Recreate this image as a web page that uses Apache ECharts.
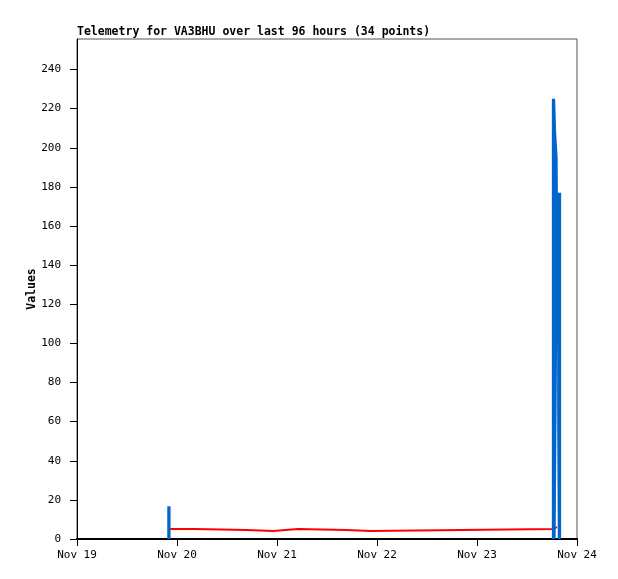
<!DOCTYPE html>
<html>
<head>
<meta charset="utf-8">
<script src="https://cdn.jsdelivr.net/npm/echarts@6/dist/echarts.min.js"></script>
<style>html,body{margin:0;padding:0;background:#fff}#c{width:618px;height:579px}</style>
</head>
<body>
<div id="c"></div>
<script>
// x values are hours since Nov 19 00:00
const dayLabels = ['Nov 19', 'Nov 20', 'Nov 21', 'Nov 22', 'Nov 23', 'Nov 24'];
const yTicks = [0, 20, 40, 60, 80, 100, 120, 140, 160, 180, 200, 220, 240];

// red channel (held until next reading)
const redHours  = [22.18, 28.25, 40.8, 47.04, 53.04, 64.66, 70.42, 114.1, 115.2];
const redValues = [5.1,   4.6,   4.1,  5.1,   4.6,   4.1,   5.1,   6.1,   6.1];

// blue channel (null = gap in the line)
const blueHours  = [22.06, 22.06, null,
                    114.36, 114.36, 114.6, 114.96, 115.05, 114.96, 114.84, 114.48, null,
                    115.8, 115.8, 115.63, 115.63, 115.78];
const blueValues = [0, 16.7, null,
                    0, 225, 208, 195, 168, 141, 104, 0, null,
                    0, 177, 141, 64, 0];

// build explicit hold-steps for the red channel
const redData = [];
redHours.forEach((h, i) => {
  if (i > 0) redData.push([h, redValues[i - 1]]);
  redData.push([h, redValues[i]]);
});
const blueData = blueHours.map((h, i) => h === null ? ['-', '-'] : [h, blueValues[i]]);

const FONT = 'DejaVu Sans Mono';
const chart = echarts.init(document.getElementById('c'), null, {renderer: 'canvas'});
chart.setOption({
  animation: false,
  backgroundColor: '#fff',
  title: {
    text: 'Telemetry for VA3BHU over last 96 hours (34 points)',
    left: 72, top: 21,
    textStyle: {fontFamily: FONT, fontWeight: 'bold', fontSize: 11.5, color: '#000'}
  },
  grid: {left: 77, top: 39, width: 500, height: 500, show: true, borderColor: '#555', borderWidth: 1, backgroundColor: 'transparent'},
  xAxis: {
    type: 'value', min: 0, max: 120, interval: 24,
    splitLine: {show: false},
    axisLine: {show: true, lineStyle: {color: '#000', width: 2}},
    axisTick: {show: true, length: 7, lineStyle: {color: '#000', width: 1}},
    axisLabel: {
      formatter: v => dayLabels[Math.round(v / 24)],
      margin: 11, color: '#000', fontFamily: FONT, fontSize: 11
    }
  },
  yAxis: {
    type: 'value', min: 0, max: 255.6, interval: 20,
    name: 'Values', nameLocation: 'middle', nameGap: 39, nameRotate: 90,
    nameMoveOverlap: false,
    nameTextStyle: {fontFamily: FONT, fontWeight: 'bold', fontSize: 11.5, color: '#000'},
    splitLine: {show: false},
    axisLine: {show: true, lineStyle: {color: '#000', width: 1}},
    axisTick: {show: true, length: 7, customValues: yTicks, lineStyle: {color: '#000', width: 1}},
    axisLabel: {
      customValues: yTicks,
      formatter: v => String(v),
      margin: 16, color: '#000', fontFamily: FONT, fontSize: 11
    }
  },
  series: [
    {
      type: 'line', data: redData, showSymbol: false, symbol: 'none',
      lineStyle: {color: '#ff0000', width: 2}, itemStyle: {color: '#ff0000'}, z: 3
    },
    {
      type: 'line', data: blueData, showSymbol: false, symbol: 'none', connectNulls: false,
      lineStyle: {color: '#0066cc', width: 3.3}, itemStyle: {color: '#0066cc'}, z: 4
    }
  ]
});
</script>
</body>
</html>
